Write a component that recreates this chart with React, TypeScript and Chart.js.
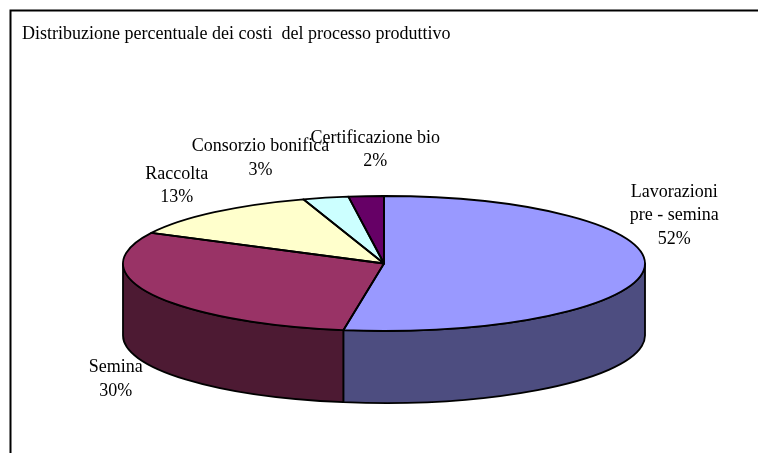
import React, { useEffect, useRef } from "react";
import { Chart, registerables } from "chart.js";

Chart.register(...registerables);

const chartTitle = "Distribuzione percentuale dei costi  del processo produttivo";
const categories = [["Lavorazioni", "pre - semina"], ["Semina"], ["Raccolta"], ["Consorzio bonifica"], ["Certificazione bio"]];
const shares = [52.49, 30.0, 12.51, 2.82, 2.18];
const topColors = ["#9999FF", "#993366", "#FFFFCC", "#CCFFFF", "#660066"];
const wallColors = ["#4D4D80", "#4D1A33", "#808066", "#668080", "#330033"];

const FONT = '"Liberation Serif", "Times New Roman", serif';
const FONT_SIZE = 18;
const CX = 384;
const CY = 263.5;
const RX = 261;
const RY = 67.5;
const DEPTH = 72;
const LINE = 1.8;
const labelOffsets = [[30, -53.5], [-35.75, 85.1], [-37.6, -26.5], [-65.2, -39.5], [9.2, -46.5]];

const pie3d = {
  id: "pie3d",
  beforeDraw(chart: any) {
    const { ctx, width, height } = chart;
    ctx.save();
    ctx.strokeStyle = "#000";
    ctx.lineWidth = 2;
    ctx.beginPath();
    ctx.moveTo(width, 10.5);
    ctx.lineTo(10.5, 10.5);
    ctx.lineTo(10.5, height);
    ctx.stroke();
    ctx.restore();
  },
  beforeDatasetsDraw(chart: any) {
    const { ctx } = chart;
    const arcs = chart.getDatasetMeta(0).data;
    ctx.save();
    ctx.strokeStyle = "#000";
    ctx.lineWidth = LINE;
    ctx.lineJoin = "round";
    arcs.forEach((arc: any, i: number) => {
      const a1 = Math.max(arc.startAngle, 0);
      const a2 = Math.min(arc.endAngle, Math.PI);
      if (a2 <= a1) return;
      ctx.beginPath();
      ctx.ellipse(CX, CY, RX, RY, 0, a1, a2);
      ctx.ellipse(CX, CY + DEPTH, RX, RY, 0, a2, a1, true);
      ctx.closePath();
      ctx.fillStyle = wallColors[i];
      ctx.fill();
      ctx.stroke();
    });
    ctx.restore();
    const first = arcs[0];
    ctx.save();
    ctx.translate(CX, CY);
    ctx.scale(1, RY / RX);
    ctx.translate(-first.x, -first.y);
  },
  afterDatasetsDraw(chart: any) {
    const { ctx } = chart;
    ctx.restore();
    const arcs = chart.getDatasetMeta(0).data;
    ctx.save();
    ctx.strokeStyle = "#000";
    ctx.lineWidth = LINE;
    ctx.lineJoin = "round";
    arcs.forEach((arc: any) => {
      ctx.beginPath();
      ctx.moveTo(CX, CY);
      ctx.ellipse(CX, CY, RX, RY, 0, arc.startAngle, arc.endAngle);
      ctx.closePath();
      ctx.stroke();
    });
    ctx.fillStyle = "#000";
    ctx.font = `${FONT_SIZE}px ${FONT}`;
    ctx.textAlign = "center";
    ctx.textBaseline = "middle";
    const total = shares.reduce((s, v) => s + v, 0);
    arcs.forEach((arc: any, i: number) => {
      const mid = (arc.startAngle + arc.endAngle) / 2;
      const x = CX + RX * Math.cos(mid) + labelOffsets[i][0];
      const y = CY + RY * Math.sin(mid) + labelOffsets[i][1];
      const lines = [...categories[i], `${Math.round((shares[i] / total) * 100)}%`];
      lines.forEach((text, k) => {
        ctx.fillText(text, x, y + (k - (lines.length - 1) / 2) * 23.5);
      });
    });
    ctx.restore();
  },
};

export default function App() {
  const ref = useRef<HTMLCanvasElement>(null);
  useEffect(() => {
    const chart = new Chart(ref.current as HTMLCanvasElement, {
      type: "pie",
      data: {
        labels: categories,
        datasets: [{ data: shares, backgroundColor: topColors, borderWidth: 0, clip: false } as any],
      },
      options: {
        animation: false,
        responsive: false,
        radius: RX,
        layout: { padding: { left: 22, top: 15 } },
        plugins: {
          legend: { display: false },
          tooltip: { enabled: false },
          title: {
            display: true,
            text: chartTitle,
            align: "start",
            color: "#000",
            font: { family: FONT, size: FONT_SIZE, weight: "normal" },
            padding: { top: 8, bottom: 4 },
          },
        },
      } as any,
      plugins: [pie3d],
    });
    return () => chart.destroy();
  }, []);
  return (
    <div style={{ position: "fixed", left: 0, top: 0, width: 758, height: 453, background: "#fff" }}>
      <canvas ref={ref} width={758} height={453} style={{ display: "block" }} />
    </div>
  );
}
